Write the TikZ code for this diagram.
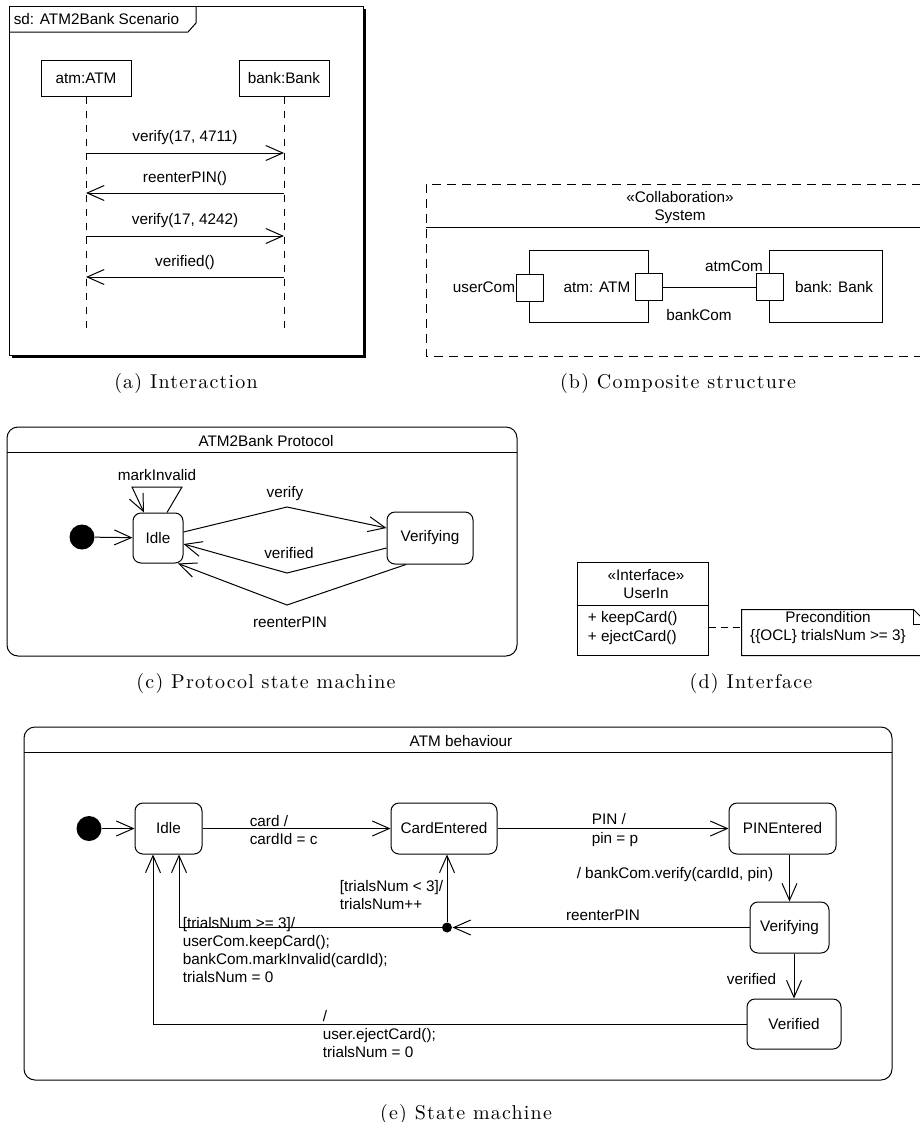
\documentclass[tikz,border=0pt]{standalone}
\usepackage{fontspec}
\setsansfont{Liberation Sans}
\newfontfamily\capfont{lmroman10-regular.otf}[LetterSpace=6]
\usetikzlibrary{positioning,arrows.meta}

\tikzset{
  every node/.style={font=\sffamily\fontsize{15.3}{18.3}\selectfont},
  subcap/.style={font=\capfont\fontsize{20}{24}\selectfont},
  lifebox/.style={draw, minimum width=90pt, minimum height=36pt},
  stbox/.style={draw, rounded corners=8pt, minimum height=51pt},
  portbox/.style={draw, fill=white, minimum size=27pt, inner sep=0pt},
  partbox/.style={draw, minimum height=72pt},
  initdot/.style={circle, fill, minimum size=25pt, inner sep=0pt},
  joindot/.style={circle, fill, minimum size=10pt, inner sep=0pt},
  lifeline/.style={dash pattern=on 7pt off 7pt},
  framedash/.style={dash pattern=on 9pt off 6pt},
  notedash/.style={dash pattern=on 7pt off 5pt},
}

\begin{document}
\begin{tikzpicture}[x=1pt, y=-1pt, line width=1pt,
  >={Straight Barb[length=17pt,width=15pt]}]
\useasboundingbox (0,0) rectangle (920,1122);

\def\xl{86}
\def\xr{284}

\fill (12,9) rectangle (366,358);
\draw[fill=white] (9,6) rectangle (363,355);
\draw (9,32) -- (188,32) -- (196,23) -- (196,6);
\node[anchor=west] (sd) at (10,19) {sd: ATM2Bank Scenario};
\node[lifebox] (atm) at (\xl,78) {atm:ATM};
\node[lifebox] (bank) at (\xr,78) {bank:Bank};
\coordinate (atmend) at (\xl,328);
\coordinate (bankend) at (\xr,328);
\draw[lifeline] (atm) -- (atmend);
\draw[lifeline] (bank) -- (bankend);
\coordinate (a1) at (\xl,153);
\coordinate (b1) at (\xr,153);
\coordinate (a2) at (\xl,193);
\coordinate (b2) at (\xr,193);
\coordinate (a3) at (\xl,236);
\coordinate (b3) at (\xr,236);
\coordinate (a4) at (\xl,277);
\coordinate (b4) at (\xr,277);
\draw[->] (a1) -- node[above=4pt] (msga) {verify(17, 4711)} (b1);
\draw[->] (b2) -- node[above=4pt] (msgb) {reenterPIN()} (a2);
\draw[->] (a3) -- node[above=4pt] (msgc) {verify(17, 4242)} (b3);
\draw[->] (b4) -- node[above=4pt] (msgd) {verified()} (a4);
\node[subcap] (capa) at (186,383) {(a) Interaction};

\draw[framedash] (921,184) -- (426,184) -- (426,356) -- (921,356);
\draw (426,227) -- (921,227);
\node[align=center] (collab) at (680,207.5) {«Collaboration»\\System};
\node[partbox, minimum width=119pt] (atmpart) at (588.5,286) {};
\node[partbox, minimum width=113pt] (bankpart) at (825.5,286) {};
\node (atmname) at (597,287) {atm: ATM};
\node (bankname) at (834,287) {bank: Bank};
\node[portbox] (usercom) at (529.5,287.5) {};
\node[portbox] (bankcom) at (649,287) {};
\node[portbox] (atmcom) at (769.5,287) {};
\draw (bankcom) -- (atmcom);
\node[left, inner sep=0pt] (usercomlbl) at (usercom.west) {userCom};
\node (atmcomlbl) at (734,266) {atmCom};
\node (bankcomlbl) at (699,315) {bankCom};
\node[subcap] (capb) at (678,383) {(b) Composite structure};

\draw[rounded corners=11pt] (7,427) rectangle (517,656);
\draw (7,452) -- (517,452);
\node (ptitle) at (266,441) {ATM2Bank Protocol};
\node[initdot] (pinit) at (82,537) {};
\node[stbox, minimum width=50pt, minimum height=50pt] (pidle) at (158,538) {Idle};
\node[stbox, minimum width=86pt, minimum height=52pt] (pverif) at (430,538) {Verifying};
\coordinate (pv1) at (287,507);
\coordinate (pv2) at (287,573);
\coordinate (pv3) at (287,605);
\coordinate (mk1) at (182,487);
\coordinate (mk2) at (132,487);
\draw[->] (pinit) -- (pidle);
\draw[->] ([yshift=6pt]pidle.east) -- (pv1) -- ([yshift=10pt]pverif.west);
\draw[->] ([yshift=-10pt]pverif.west) -- (pv2) -- ([yshift=-6pt]pidle.east);
\draw[->] ([xshift=-24pt]pverif.south) -- (pv3) -- ([xshift=20pt]pidle.south);
\draw[->] ([xshift=9pt]pidle.north) -- (mk1) -- (mk2) -- ([xshift=-14pt]pidle.north);
\node (pverify) at (285,494) {verify};
\node (pverified) at (289,553) {verified};
\node (preenter) at (290,622) {reenterPIN};
\node (pmark) at (157,475) {markInvalid};
\node[subcap] (capc) at (266,683) {(c) Protocol state machine};

\node[draw, minimum width=131pt, minimum height=93pt] (userin) at (642.5,608.5) {};
\draw (userin.west |- 0,605) -- (userin.east |- 0,605);
\node[align=center] (ifhead) at (646,584) {«Interface»\\UserIn};
\node[align=left, anchor=west] (ifops) at (584,628) {+ keepCard()\\+ ejectCard()};
\node[minimum width=186pt, minimum height=45pt, inner sep=0pt] (note) at (835,632.5) {};
\draw (note.south west) -- (note.north west) -- ([xshift=-15pt]note.north east)
  -- ([yshift=-15pt]note.north east) -- (note.south east) -- cycle;
\draw ([xshift=-15pt]note.north east) -- ([xshift=-15pt,yshift=-15pt]note.north east)
  -- ([yshift=-15pt]note.north east);
\node[align=center] (precond) at (828,627.5) {Precondition\\\{\{OCL\} trialsNum >= 3\}};
\draw[notedash] (userin.east |- 0,627) -- (note.west |- 0,627);
\node[subcap] (capd) at (751,683) {(d) Interface};

\draw[rounded corners=11pt] (24,727) rectangle (892,1080);
\draw (24,752) -- (892,752);
\node (etitle) at (461,741) {ATM behaviour};
\node[initdot] (init) at (89,828.5) {};
\node[stbox, minimum width=67pt] (idle) at (168.5,828.5) {Idle};
\node[stbox, minimum width=106pt] (cardent) at (444,828.5) {CardEntered};
\node[stbox, minimum width=107pt] (pinent) at (782.5,828.5) {PINEntered};
\node[stbox, minimum width=79pt] (verif) at (789.5,927.5) {Verifying};
\node[stbox, minimum width=94pt, minimum height=50pt] (verifd) at (794,1024) {Verified};
\node[joindot] (junc) at (447,927.5) {};
\draw[->] (init) -- (idle);
\draw[->] (idle) -- (cardent);
\draw[->] (cardent) -- (pinent);
\draw[->] (pinent.south -| verif) -- (verif.north);
\draw[->] (verif.west) -- (junc);
\draw[->] (junc) -- (junc |- cardent.south);
\draw[->] (junc) -| ([xshift=10.5pt]idle.south);
\draw[->] (verif.south -| verifd) -- (verifd.north);
\draw[->] (verifd.west) -| ([xshift=-15.5pt]idle.south);
\node[align=left, anchor=west] (lcard) at (246,830) {card /\\cardId = c};
\node[align=left, anchor=west] (lpin) at (588,830) {PIN /\\pin = p};
\node[anchor=east] (lverify) at (777,875) {/ bankCom.verify(cardId, pin)};
\node (lreenter) at (603,915) {reenterPIN};
\node[align=left, anchor=west] (lless) at (336,895) {[trialsNum < 3]/\\trialsNum++};
\node[align=left, anchor=west] (lmore) at (179,950)
  {[trialsNum >= 3]/\\userCom.keepCard();\\bankCom.markInvalid(cardId);\\trialsNum = 0};
\node[anchor=east] (lverified) at (780,979) {verified};
\node[align=left, anchor=west] (leject) at (319,1034) {/\\user.ejectCard();\\trialsNum = 0};
\node[subcap] (cape) at (466,1114) {(e) State machine};
\end{tikzpicture}
\end{document}
